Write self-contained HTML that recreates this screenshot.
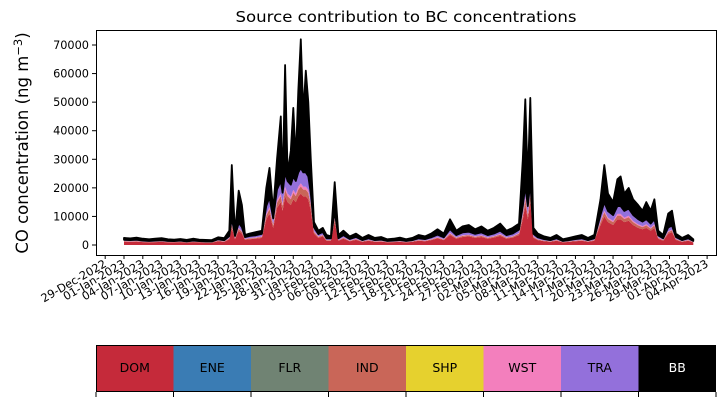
<!DOCTYPE html>
<html><head><meta charset="utf-8"><style>
body{margin:0;background:#fff;}
svg{display:block;font-family:"DejaVu Sans","Liberation Sans",sans-serif;}
</style></head><body>
<svg id="chart" width="725" height="402" viewBox="0 0 725 402" xmlns="http://www.w3.org/2000/svg">
<text x="406" y="22" font-size="15" text-anchor="middle" textLength="341" lengthAdjust="spacingAndGlyphs">Source contribution to BC concentrations</text>
<text transform="translate(28,143) rotate(-90)" font-size="16.5" text-anchor="middle">CO concentration (ng m<tspan dy="-6" font-size="11.5">−3</tspan><tspan dy="6">)</tspan></text>
<g id="areas"></g>
<g id="axes"></g>
<rect x="96.5" y="30.5" width="620" height="225" fill="none" stroke="#000" stroke-width="1"/>
<g id="legend"></g>
</svg>
<script>
const days=[0,1,2,3,4,5,6,7,8,9,10,11,12,13,14,15,16,16.8,17.2,17.7,18.3,18.8,19.3,20,21,22,22.7,23.2,23.8,24.4,25,25.3,25.7,26.1,26.6,27,27.4,27.8,28.2,28.6,29,29.4,29.8,30.3,31,31.7,32.3,33,33.6,34.2,35,36,37,38,39,40,41,42,43,44,45,46,47,48,49,50,51,52,53,54,55,56,57,58,59,60,61,62,63,63.6,64,64.4,64.8,65.3,66,67,68,69,70,71,72,73,74,75,76,76.6,77.2,78,78.7,79.2,79.8,80.5,81.2,82,82.7,83.3,84,84.6,85.2,86,86.8,87.4,88,89,90,90.8];
const total=[2500,2300,2600,2200,2000,2200,2400,2000,1900,2100,1800,2200,1900,1800,1700,2700,2400,5000,28000,4000,19000,14000,3500,4000,4500,5000,20000,27000,12000,30000,45000,20000,63000,25000,33000,48000,30000,54000,72000,46000,61000,50000,30000,8000,5000,6000,3500,3000,22000,3500,5000,3000,4000,2500,3500,2500,2800,2000,2200,2600,2000,2500,3500,3000,4000,5500,4000,9000,5000,6500,7000,5500,6500,5000,6000,7500,5000,6000,7500,30000,51000,22000,51500,6000,4000,3000,2500,3500,2000,2500,3000,3500,2500,3500,16000,28000,18000,15000,23000,24000,18000,20000,16000,14000,12000,15000,12000,16000,5000,3500,11000,12000,4000,2500,3500,2000];
const dom=[1200,1100,1200,1000,900,1000,1100,900,900,1000,800,1000,900,800,800,1300,1100,2000,6000,2000,5000,4000,1800,2000,2200,2500,9000,11000,6000,13000,15000,12000,17000,15000,14000,16000,15000,17000,18000,17000,17000,16000,12000,4000,2500,3000,1500,1500,8000,1500,2200,1300,1800,1100,1500,1100,1200,900,1000,1100,900,1100,1500,1300,1700,2300,1700,3500,2200,2800,3000,2500,2800,2200,2600,3200,2200,2600,3500,9000,14000,9000,15000,2500,1700,1300,1100,1500,900,1100,1300,1500,1100,1500,7000,10000,8000,7000,9000,9000,8000,8500,7000,6000,5500,6000,5000,6000,2200,1500,4000,4500,1800,1100,1500,900];
const ind=[150,150,150,130,120,130,140,120,120,130,100,130,120,100,100,170,140,300,900,300,700,600,250,300,300,350,1300,1600,900,1800,2100,1700,2400,2100,2000,2300,2100,2400,2500,2400,2400,2300,1700,600,350,400,200,200,1100,200,300,200,250,150,200,150,160,120,130,150,120,150,200,180,230,300,230,500,300,400,400,350,400,300,350,450,300,350,500,1300,2000,1300,2100,350,230,180,150,200,120,150,180,200,150,200,1000,1400,1100,1000,1300,1300,1100,1200,1000,850,750,850,700,850,300,200,550,600,250,150,200,120];
const wst=[80,80,80,70,60,70,70,60,60,70,50,70,60,50,50,90,70,150,400,150,300,250,120,150,150,180,600,700,400,800,900,800,1000,900,900,1000,900,1000,1100,1000,1000,1000,800,300,180,200,100,100,500,100,150,100,120,80,100,80,80,60,70,80,60,80,100,90,120,150,120,250,150,200,200,180,200,150,180,220,150,180,250,600,900,600,950,180,120,90,80,100,60,80,90,100,80,100,450,650,500,450,600,600,500,550,450,400,350,400,320,400,150,100,280,300,120,80,100,60];
const tra=[400,380,420,350,320,350,380,320,300,330,280,350,300,280,270,450,380,700,2200,700,1700,1400,600,700,750,850,2800,3400,2000,3800,4400,3800,5000,4400,4200,4700,4400,5000,5300,5000,5000,4700,3600,1300,800,950,550,500,2300,550,800,500,650,400,550,400,450,320,350,420,320,400,550,480,650,850,650,1300,800,1000,1050,850,1000,800,900,1150,800,900,1150,2700,3800,2700,4000,900,650,480,400,550,320,400,480,550,400,550,2100,2900,2300,2000,2700,2700,2300,2500,2100,1800,1600,1800,1500,1800,700,550,1300,1400,650,400,550,320];
const tickLabels=["29-Dec-2022","01-Jan-2023","04-Jan-2023","07-Jan-2023","10-Jan-2023","13-Jan-2023","16-Jan-2023","19-Jan-2023","22-Jan-2023","25-Jan-2023","28-Jan-2023","31-Jan-2023","03-Feb-2023","06-Feb-2023","09-Feb-2023","12-Feb-2023","15-Feb-2023","18-Feb-2023","21-Feb-2023","24-Feb-2023","27-Feb-2023","02-Mar-2023","05-Mar-2023","08-Mar-2023","11-Mar-2023","14-Mar-2023","17-Mar-2023","20-Mar-2023","23-Mar-2023","26-Mar-2023","29-Mar-2023","01-Apr-2023","04-Apr-2023"];
const yTicks=[0,10000,20000,30000,40000,50000,60000,70000];
const sources=["DOM","ENE","FLR","IND","SHP","WST","TRA","BB"];
const colors=["#c52a3a","#3a7cb4","#708373","#c96658","#e6d12e","#f37fbd","#9370db","#000000"];

const NS="http://www.w3.org/2000/svg";
const X=d=>124+d*6.27;
const Y=v=>245-v*200/70000;
function mk(tag,attrs,parent){const e=document.createElementNS(NS,tag);for(const k in attrs)e.setAttribute(k,attrs[k]);parent.appendChild(e);return e;}
const areas=document.getElementById('areas'),axes=document.getElementById('axes'),legend=document.getElementById('legend');

const layers=[{name:"dom",vals:dom,c:colors[0]},{name:"ind",vals:ind,c:colors[3]},{name:"wst",vals:wst,c:colors[5]},{name:"tra",vals:tra,c:colors[6]}];
let base=days.map(()=>0);
function band(lo,hi,color,name){
  let pts=days.map((d,i)=>X(d).toFixed(1)+','+Y(hi[i]).toFixed(1));
  for(let i=days.length-1;i>=0;i--)pts.push(X(days[i]).toFixed(1)+','+Y(lo[i]).toFixed(1));
  const p=mk('polygon',{points:pts.join(' '),fill:color},areas);
  
  
  return p;
}
layers.forEach(l=>{const hi=base.map((b,i)=>b+l.vals[i]);band(base,hi,l.c,l.name);base=hi;});
const bbTop=days.map((d,i)=>Math.max(total[i],base[i]));
const bb=band(base,bbTop,"#000","bb");
bb.setAttribute('stroke','#000');bb.setAttribute('stroke-width','1.8');bb.setAttribute('stroke-linejoin','round');

yTicks.forEach(v=>{
  const y=Y(v);
  const t=mk('line',{x1:92,x2:96,y1:y,y2:y,stroke:'#000'},axes);
  
  
  const tx=mk('text',{x:89,y:y+4,'font-size':11.3,'text-anchor':'end'},axes);
  
  
  tx.textContent=v;
});
tickLabels.forEach((lab,i)=>{
  const x=X(-3+i*3);
  const t=mk('line',{x1:x,x2:x,y1:255,y2:259,stroke:'#000'},axes);
  
  
  const tx=mk('text',{transform:`translate(${x+2},${266}) rotate(-30)`,'font-size':11.3,'text-anchor':'end'},axes);
  
  
  tx.textContent=lab;
});
const lw=620/sources.length;
sources.forEach((s,i)=>{
  const x=96+i*lw;
  const r=mk('rect',{x:x,y:345,width:lw,height:47,fill:colors[i]},legend);
  
  
  const tx=mk('text',{x:x+lw/2,y:372,'font-size':12.5,'text-anchor':'middle',fill:s==="BB"?'#fff':'#000'},legend);
  
  
  tx.textContent=s;
});
for(let i=0;i<=sources.length;i++){
  const x=96+i*lw;
  const t=mk('line',{x1:x,x2:x,y1:392,y2:397,stroke:'#000'},legend);
  
  
}
const fr=mk('rect',{x:96.5,y:345.5,width:619,height:46,fill:'none',stroke:'#000'},legend);


</script>
</body></html>
